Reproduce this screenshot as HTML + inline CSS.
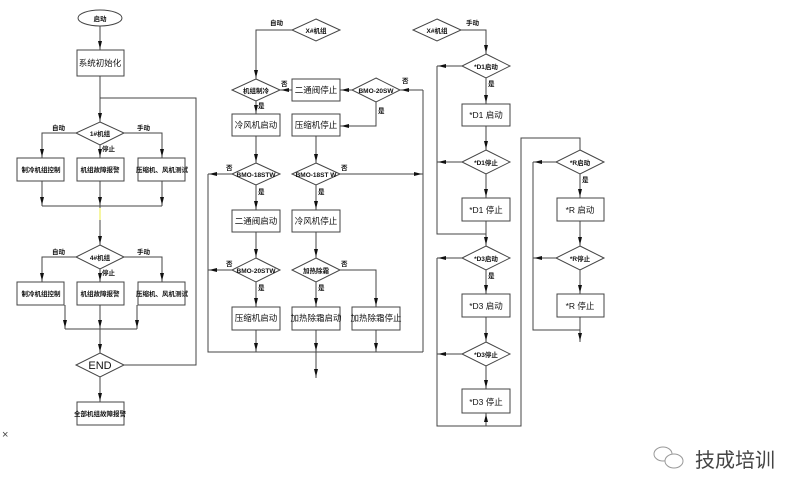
<!DOCTYPE html>
<html><head><meta charset="utf-8"><style>
html,body{margin:0;padding:0;background:#fff}
svg{display:block}
text{font-family:"Liberation Sans","Noto Sans CJK SC",sans-serif;fill:#111}
.b{font-size:8.5px}.s{font-size:6.5px;font-weight:bold}
</style></head><body>
<svg width="800" height="493" viewBox="0 0 800 493" xmlns="http://www.w3.org/2000/svg">
<defs><marker id="a" markerWidth="8" markerHeight="4" refX="9" refY="2" orient="auto" markerUnits="userSpaceOnUse"><path d="M0,0 L8,2 L0,4 z" fill="#111"/></marker></defs>
<g fill="none" stroke="#444" stroke-width="1">
<!-- column 1 -->
<ellipse cx="100" cy="18" rx="22" ry="8"/>
<rect x="77" y="50" width="47" height="26"/>
<line x1="100" y1="26" x2="100" y2="50" marker-end="url(#a)"/>
<line x1="100" y1="76" x2="100" y2="122" marker-end="url(#a)"/>
<polyline points="100,98 196,98 196,365 124,365"/>
<polygon points="100,122 124,133 100,145 76,133"/>
<polyline points="76,133 42,133 42,158" marker-end="url(#a)"/>
<polyline points="124,133 162,133 162,158" marker-end="url(#a)"/>
<line x1="100" y1="145" x2="100" y2="158" marker-end="url(#a)"/>
<rect x="17" y="158" width="47" height="23"/><rect x="77" y="158" width="47" height="23"/><rect x="138" y="158" width="47" height="23"/>
<line x1="42" y1="181" x2="42" y2="206" marker-end="url(#a)"/><line x1="100" y1="181" x2="100" y2="206" marker-end="url(#a)"/><line x1="162" y1="181" x2="162" y2="206" marker-end="url(#a)"/>
<line x1="42" y1="206" x2="162" y2="206"/>
<line x1="100" y1="206" x2="100" y2="245" marker-end="url(#a)"/>
<polygon points="100,245 124,257 100,269 76,257"/>
<polyline points="76,257 42,257 42,282" marker-end="url(#a)"/>
<polyline points="124,257 162,257 162,282" marker-end="url(#a)"/>
<line x1="100" y1="269" x2="100" y2="282" marker-end="url(#a)"/>
<rect x="17" y="282" width="47" height="23"/><rect x="77" y="282" width="47" height="23"/><rect x="138" y="282" width="47" height="23"/>
<line x1="65" y1="305" x2="65" y2="329" marker-end="url(#a)"/><line x1="100" y1="305" x2="100" y2="329" marker-end="url(#a)"/><line x1="137" y1="305" x2="137" y2="329" marker-end="url(#a)"/>
<line x1="65" y1="329" x2="137" y2="329"/>
<line x1="100" y1="329" x2="100" y2="353" marker-end="url(#a)"/>
<polygon points="100,353 124,365 100,377 76,365"/>
<line x1="100" y1="377" x2="100" y2="402" marker-end="url(#a)"/>
<rect x="77" y="402" width="47" height="23"/>
<!-- column 2 -->
<polygon points="316,19 340,30 316,41 292,30"/>
<polyline points="292,30 256,30 256,79" marker-end="url(#a)"/>
<polygon points="256,79 280,90 256,101 232,90"/>
<line x1="256" y1="101" x2="256" y2="114" marker-end="url(#a)"/>
<rect x="232" y="114" width="48" height="22"/>
<rect x="292" y="79" width="48" height="22"/>
<line x1="292" y1="90" x2="280" y2="90" marker-end="url(#a)"/>
<polygon points="376,78 400,90 376,102 352,90"/>
<line x1="352" y1="90" x2="340" y2="90" marker-end="url(#a)"/>
<polyline points="423,90 423,352"/>
<line x1="423" y1="90" x2="400" y2="90" marker-end="url(#a)"/>
<polyline points="376,102 376,126 340,126" marker-end="url(#a)"/>
<rect x="292" y="114" width="48" height="22"/>
<line x1="256" y1="136" x2="256" y2="163" marker-end="url(#a)"/>
<line x1="316" y1="136" x2="316" y2="163" marker-end="url(#a)"/>
<polygon points="256,163 280,174 256,185 232,174"/>
<polygon points="316,163 340,174 316,185 292,174"/>
<polyline points="208,174 208,352 423,352"/>
<line x1="232" y1="174" x2="208" y2="174" marker-end="url(#a)"/>
<line x1="340" y1="174" x2="423" y2="174" marker-end="url(#a)"/>
<line x1="256" y1="185" x2="256" y2="210" marker-end="url(#a)"/>
<line x1="316" y1="185" x2="316" y2="210" marker-end="url(#a)"/>
<rect x="232" y="210" width="48" height="22"/><rect x="292" y="210" width="48" height="22"/>
<line x1="256" y1="232" x2="256" y2="258" marker-end="url(#a)"/>
<line x1="316" y1="232" x2="316" y2="258" marker-end="url(#a)"/>
<polygon points="256,258 280,270 256,282 232,270"/>
<polygon points="316,258 340,270 316,282 292,270"/>
<line x1="232" y1="270" x2="208" y2="270" marker-end="url(#a)"/>
<polyline points="340,270 376,270 376,307" marker-end="url(#a)"/>
<line x1="256" y1="282" x2="256" y2="307" marker-end="url(#a)"/>
<line x1="316" y1="282" x2="316" y2="307" marker-end="url(#a)"/>
<rect x="232" y="307" width="48" height="23"/><rect x="292" y="307" width="48" height="23"/><rect x="352" y="307" width="48" height="23"/>
<line x1="256" y1="330" x2="256" y2="352" marker-end="url(#a)"/><line x1="316" y1="330" x2="316" y2="352" marker-end="url(#a)"/><line x1="376" y1="330" x2="376" y2="352" marker-end="url(#a)"/>
<line x1="316" y1="352" x2="316" y2="378" marker-end="url(#a)"/>
<!-- column 3 -->
<polygon points="437,19 461,30 437,41 413,30"/>
<polyline points="461,30 486,30 486,54" marker-end="url(#a)"/>
<polygon points="486,54 510,66 486,78 462,66"/>
<polyline points="437,66 437,234 486,234"/>
<line x1="462" y1="66" x2="437" y2="66" marker-end="url(#a)"/>
<line x1="486" y1="78" x2="486" y2="104" marker-end="url(#a)"/>
<rect x="462" y="104" width="48" height="22"/>
<line x1="486" y1="126" x2="486" y2="150" marker-end="url(#a)"/>
<polygon points="486,150 510,162 486,174 462,162"/>
<line x1="462" y1="162" x2="437" y2="162" marker-end="url(#a)"/>
<line x1="486" y1="174" x2="486" y2="198" marker-end="url(#a)"/>
<rect x="462" y="198" width="48" height="23"/>
<line x1="486" y1="221" x2="486" y2="246" marker-end="url(#a)"/>
<polygon points="486,246 510,258 486,270 462,258"/>
<polyline points="437,258 437,426 521,426 521,138 580,138 580,150"/>
<line x1="462" y1="258" x2="437" y2="258" marker-end="url(#a)"/>
<line x1="486" y1="270" x2="486" y2="294" marker-end="url(#a)"/>
<rect x="462" y="294" width="48" height="23"/>
<line x1="486" y1="317" x2="486" y2="342" marker-end="url(#a)"/>
<polygon points="486,342 510,354 486,366 462,354"/>
<line x1="462" y1="354" x2="437" y2="354" marker-end="url(#a)"/>
<line x1="486" y1="366" x2="486" y2="389" marker-end="url(#a)"/>
<rect x="462" y="389" width="48" height="24"/>
<line x1="486" y1="426" x2="486" y2="413" marker-end="url(#a)"/>
<polygon points="580,150 604,162 580,174 556,162"/>
<polyline points="533,162 533,330 580,330"/>
<line x1="556" y1="162" x2="533" y2="162" marker-end="url(#a)"/>
<line x1="580" y1="174" x2="580" y2="198" marker-end="url(#a)"/>
<rect x="557" y="198" width="47" height="23"/>
<line x1="580" y1="221" x2="580" y2="246" marker-end="url(#a)"/>
<polygon points="580,246 604,258 580,270 556,258"/>
<line x1="556" y1="258" x2="533" y2="258" marker-end="url(#a)"/>
<line x1="580" y1="270" x2="580" y2="294" marker-end="url(#a)"/>
<rect x="557" y="294" width="47" height="23"/>
<line x1="580" y1="317" x2="580" y2="342" marker-end="url(#a)"/>
</g>
<line x1="100" y1="208" x2="100" y2="220" stroke="#ee4" stroke-width="1"/>
<g text-anchor="middle">
<text x="100" y="21" class="s">启动</text>
<text x="100" y="66" class="b">系统初始化</text>
<text x="100" y="136" class="s">1#机组</text>
<text x="41" y="172" class="s">制冷机组控制</text><text x="100" y="172" class="s">机组故障报警</text><text x="162" y="172" class="s">压缩机、风机测试</text>
<text x="100" y="260" class="s">4#机组</text>
<text x="41" y="296" class="s">制冷机组控制</text><text x="100" y="296" class="s">机组故障报警</text><text x="162" y="296" class="s">压缩机、风机测试</text>
<text x="100" y="369" style="font-size:11px">END</text>
<text x="100" y="416" class="s">全部机组故障报警</text>
<text x="316" y="33" class="s">X#机组</text>
<text x="256" y="93" class="s">机组制冷</text>
<text x="256" y="128" class="b">冷风机启动</text>
<text x="316" y="93" class="b">二通阀停止</text>
<text x="376" y="93" class="s">BMO-20SW</text>
<text x="316" y="128" class="b">压缩机停止</text>
<text x="256" y="177" class="s">BMO-18STW</text>
<text x="316" y="177" class="s">BMO-18ST W</text>
<text x="256" y="224" class="b">二通阀启动</text><text x="316" y="224" class="b">冷风机停止</text>
<text x="256" y="273" class="s">BMO-20STW</text><text x="316" y="273" class="s">加热除霜</text>
<text x="256" y="321" class="b">压缩机启动</text><text x="316" y="321" class="b">加热除霜启动</text><text x="376" y="321" class="b">加热除霜停止</text>
<text x="437" y="33" class="s">X#机组</text>
<text x="486" y="69" class="s">*D1启动</text>
<text x="486" y="118" class="b">*D1 启动</text>
<text x="486" y="165" class="s">*D1停止</text>
<text x="486" y="213" class="b">*D1 停止</text>
<text x="486" y="261" class="s">*D3启动</text>
<text x="486" y="309" class="b">*D3 启动</text>
<text x="486" y="357" class="s">*D3停止</text>
<text x="486" y="405" class="b">*D3 停止</text>
<text x="580" y="165" class="s">*R启动</text>
<text x="580" y="213" class="b">*R 启动</text>
<text x="580" y="261" class="s">*R停止</text>
<text x="580" y="309" class="b">*R 停止</text>
</g>
<g>
<text x="52" y="130" class="s">自动</text><text x="137" y="130" class="s">手动</text><text x="102" y="151" class="s">停止</text>
<text x="52" y="254" class="s">自动</text><text x="137" y="254" class="s">手动</text><text x="102" y="275" class="s">停止</text>
<text x="270" y="25" class="s">自动</text>
<text x="258" y="108" class="s">是</text><text x="281" y="86" class="s">否</text>
<text x="402" y="83" class="s">否</text><text x="378" y="113" class="s">是</text>
<text x="226" y="170" class="s">否</text><text x="258" y="194" class="s">是</text>
<text x="341" y="170" class="s">否</text><text x="318" y="194" class="s">是</text>
<text x="226" y="266" class="s">否</text><text x="258" y="290" class="s">是</text>
<text x="341" y="266" class="s">否</text><text x="318" y="290" class="s">是</text>
<text x="466" y="25" class="s">手动</text>
<text x="488" y="86" class="s">是</text>
<text x="488" y="278" class="s">是</text>
<text x="582" y="182" class="s">是</text>
</g>
<text x="2" y="438" style="font-size:11px;fill:#444">×</text>
<g fill="none" stroke="#999" stroke-width="1"><ellipse cx="663" cy="454" rx="9" ry="7"/><ellipse cx="674" cy="461" rx="9" ry="7" fill="#fff"/></g>
<text x="695" y="467" style="font-size:20px;fill:#444;font-family:'Liberation Sans','Noto Sans CJK SC',sans-serif">技成培训</text>
</svg>
</body></html>
